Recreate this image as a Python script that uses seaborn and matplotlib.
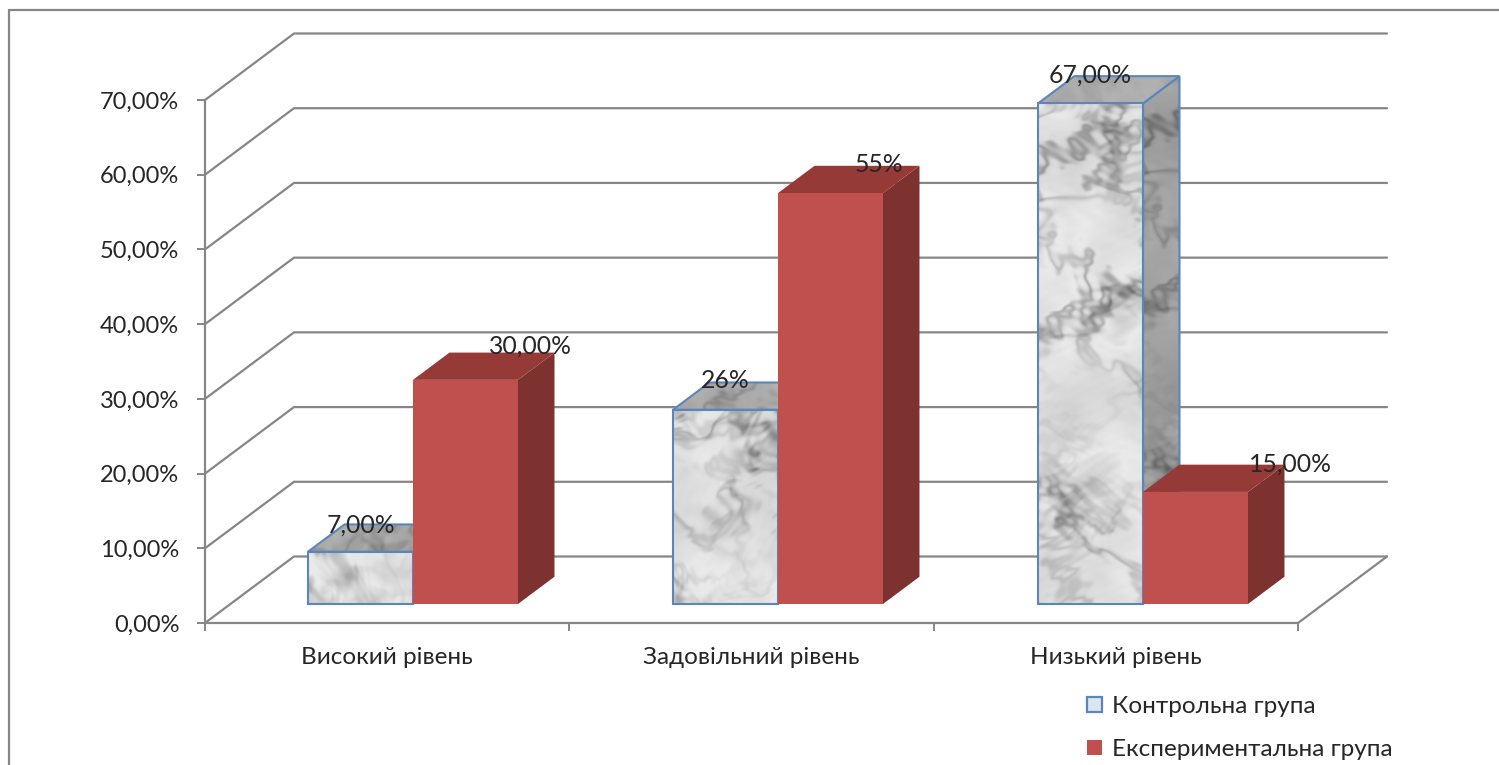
import numpy as np
import pandas as pd
import matplotlib
matplotlib.use("Agg")
import matplotlib.pyplot as plt
from matplotlib.lines import Line2D
from matplotlib.patches import Patch, Polygon
import seaborn as sns

# Chart data
levels = ["Високий рівень", "Задовільний рівень", "Низький рівень"]
groups = ["Контрольна група", "Експериментальна група"]
control_values = [7, 26, 67]
experimental_values = [30, 55, 15]
control_labels = ["7,00%", "26%", "67,00%"]
experimental_labels = ["30,00%", "55%", "15,00%"]
y_ticks = [0, 10, 20, 30, 40, 50, 60, 70]
y_tick_labels = ["0,00%", "10,00%", "20,00%", "30,00%", "40,00%", "50,00%", "60,00%", "70,00%"]

# Figure geometry, in pixels
W, H = 1499, 765
AX_L, AX_R, AX_T, AX_B = 205, 1298, 100, 623
CAT0_PX, CAT_STEP_PX = 413, 365
BACK_DX_PX, BACK_DY_PX = 89, 66.5
BAR_LIFT_PX = 19
BAR_DEPTH = 0.41
LINE = "#868686"
TEXT = "#262626"
BLUE = "#5B86BD"
RED, RED_TOP, RED_SIDE = "#C0504D", "#953A37", "#7E3230"

sns.set_theme(style="white")
plt.rcParams["font.family"] = ["Lato", "Open Sans", "DejaVu Sans"]

fig = plt.figure(figsize=(W / 100, H / 100), dpi=100, facecolor="white")
ax = fig.add_axes([AX_L / W, 1 - AX_B / H, (AX_R - AX_L) / W, (AX_B - AX_T) / H])
ax.patch.set_alpha(0)

frame = pd.DataFrame({
    "level": levels * 2,
    "group": [groups[0]] * 3 + [groups[1]] * 3,
    "value": control_values + experimental_values,
})

px_per_pct = (AX_B - AX_T) / 70
lift = BAR_LIFT_PX / px_per_pct
sns.barplot(data=frame, x="level", y="value", hue="group", order=levels, hue_order=groups,
            palette=[BLUE, RED], width=210 / CAT_STEP_PX, gap=0, saturation=1,
            legend=False, bottom=lift, linewidth=0, ax=ax)

xl = (AX_L - CAT0_PX) / CAT_STEP_PX
xr = (AX_R - CAT0_PX) / CAT_STEP_PX
depth_x = BACK_DX_PX / CAT_STEP_PX
depth_y = BACK_DY_PX / px_per_pct


def octaves(x, y, phase, n=7, gain=0.62):
    """Layered sine waves turned by the golden angle at each octave."""
    total = np.zeros_like(x)
    for k in range(n):
        angle = 2.39996 * k + 0.6 * phase
        freq = 1.85 ** k
        total += gain ** k * np.sin(freq * (x * np.cos(angle) + y * np.sin(angle))
                                    + 1.7 * k + phase * (k + 1))
    return total


def marble(nx, ny, phase, dark=1.0, contrast=1.0):
    """Mottled grey stone with a fine network of soft veins."""
    y, x = np.mgrid[0:ny, 0:nx] / 34.0
    warp = octaves(x, y, phase + 3.0, n=4)
    cloud = octaves(x + 0.25 * warp, y - 0.2 * warp, phase, n=6)
    ridge_a = octaves(x + 0.3 * warp, y + 0.3 * warp, phase + 1.4, n=6)
    ridge_b = octaves(0.8 * x - 0.3 * warp, 1.2 * y, phase + 4.1, n=6)
    mask = np.clip(0.6 + 0.4 * octaves(0.6 * x, 0.6 * y, phase + 6.0, n=3), 0.2, 1)
    veins = (0.24 * np.exp(-(ridge_a / 0.30) ** 2) + 0.16 * np.exp(-(ridge_b / 0.30) ** 2)) * mask
    blotch = 0.12 * np.clip(cloud - 0.9, 0, 1.2)
    v = 0.89 + 0.03 * cloud - contrast * (veins + blotch)
    return np.clip(v * dark, 0, 1)


def textured_face(polygon, phase, dark, contrast, zorder):
    """Fill a polygon, given in data units, with a clipped stone image."""
    xs, ys = polygon[:, 0], polygon[:, 1]
    x0, x1, y0, y1 = xs.min(), xs.max(), ys.min(), ys.max()
    nx = max(int((x1 - x0) * CAT_STEP_PX), 2)
    ny = max(int((y1 - y0) * px_per_pct), 2)
    image = ax.imshow(marble(nx, ny, phase, dark, contrast), extent=(x0, x1, y0, y1), cmap="gray",
                      vmin=0, vmax=1, aspect="auto", origin="upper", zorder=zorder,
                      interpolation="bilinear")
    outline = Polygon(polygon, closed=True, fc="none", ec=BLUE, lw=1.5, zorder=zorder + 0.01,
                      transform=ax.transData, clip_on=False)
    ax.add_patch(outline)
    image.set_clip_path(outline)
    image.set_clip_box(fig.bbox)


def box_faces(bar):
    """Front, top and side outlines of a bar extruded into depth."""
    x0, x1 = bar.get_x(), bar.get_x() + bar.get_width()
    y0, y1 = bar.get_y(), bar.get_y() + bar.get_height()
    dx, dy = BAR_DEPTH * depth_x, BAR_DEPTH * depth_y
    front = np.array([[x0, y0], [x1, y0], [x1, y1], [x0, y1]])
    top = np.array([[x0, y1], [x1, y1], [x1 + dx, y1 + dy], [x0 + dx, y1 + dy]])
    side = np.array([[x1, y0], [x1 + dx, y0 + dy], [x1 + dx, y1 + dy], [x1, y1]])
    return front, top, side


bars = list(ax.patches)
control_bars, experimental_bars = bars[:3], bars[3:6]

for i, bar in enumerate(control_bars):
    front, top, side = box_faces(bar)
    base_z = 3 + i * 4
    textured_face(side, 0.9 + i, 0.72, 1.0, base_z)
    textured_face(top, 1.7 + i, 0.76, 0.6, base_z + 0.1)
    textured_face(front, 0.3 + 1.3 * i, 1.0, 1.0, base_z + 0.2)
    bar.set_zorder(base_z + 0.15)

for i, bar in enumerate(experimental_bars):
    front, top, side = box_faces(bar)
    base_z = 5 + i * 4
    ax.add_patch(Polygon(side, closed=True, fc=RED_SIDE, ec="none", zorder=base_z))
    ax.add_patch(Polygon(top, closed=True, fc=RED_TOP, ec="none", zorder=base_z + 0.1))
    bar.set_zorder(base_z + 0.2)

# Back wall and floor lines
for tick in y_ticks:
    ax.plot([xl, xl + depth_x, xr + depth_x], [tick, tick + depth_y, tick + depth_y],
            color=LINE, lw=1.6, clip_on=False, zorder=1, solid_joinstyle="miter")
ax.plot([xr + depth_x, xr], [depth_y, 0], color=LINE, lw=1.6, clip_on=False, zorder=1)

ax.set_xlim(xl, xr)
ax.set_ylim(0, 70)
ax.set_xlabel("")
ax.set_ylabel("")

# Axes, ticks and tick labels
sns.despine(ax=ax, top=True, right=True)
for name in ("left", "bottom"):
    ax.spines[name].set_color(LINE)
    ax.spines[name].set_linewidth(1.6)
ax.set_yticks(y_ticks, y_tick_labels)
ax.tick_params(axis="y", which="major", left=True, length=5.5, width=1.4, color=LINE,
               labelsize=17, labelcolor=TEXT, pad=13)
boundaries = np.linspace(xl, xr, len(levels) + 1)
ax.set_xticks(boundaries, [""] * len(boundaries))
ax.set_xticks((boundaries[:-1] + boundaries[1:]) / 2, levels, minor=True)
ax.tick_params(axis="x", which="major", bottom=True, length=5.5, width=1.4, color=LINE)
ax.tick_params(axis="x", which="minor", bottom=False, labelsize=17.5, labelcolor=TEXT, pad=13.5)

# Value labels above the bars
control_offsets = [(0, 27), (0, 29), (0, 28)]
experimental_offsets = [(65, 34), (48, 29), (95, 28)]
label_sets = [(control_bars, control_labels, control_offsets),
              (experimental_bars, experimental_labels, experimental_offsets)]
for bar_set, texts, offsets in label_sets:
    for bar, text, (ox, oy) in zip(bar_set, texts, offsets):
        ax.annotate(text, (bar.get_x() + bar.get_width() / 2, bar.get_y() + bar.get_height()),
                    xytext=(ox * 0.72, oy * 0.72), textcoords="offset points", ha="center",
                    va="center", fontsize=17.8, color=TEXT, zorder=30, annotation_clip=False)

# Legend below the plot area
handles = [Patch(facecolor="#DCE6EC", edgecolor=BLUE, linewidth=1.6),
           Patch(facecolor=RED, edgecolor="none")]
fig.legend(handles, groups, loc="upper left", bbox_to_anchor=(1087 / W, 1 - 696 / H),
           frameon=False, fontsize=17.5, labelcolor=TEXT, handlelength=0.62, handleheight=0.62,
           handletextpad=0.40, labelspacing=0.91, borderpad=0, borderaxespad=0)

# Chart frame along the top and left edges
for xs, ys in (([9, 9], [H, 10]), ([9, W], [10, 10])):
    fig.add_artist(Line2D([x / W for x in xs], [1 - y / H for y in ys], color=LINE, lw=1.6,
                          transform=fig.transFigure))

fig.savefig("out.png", dpi=100)
